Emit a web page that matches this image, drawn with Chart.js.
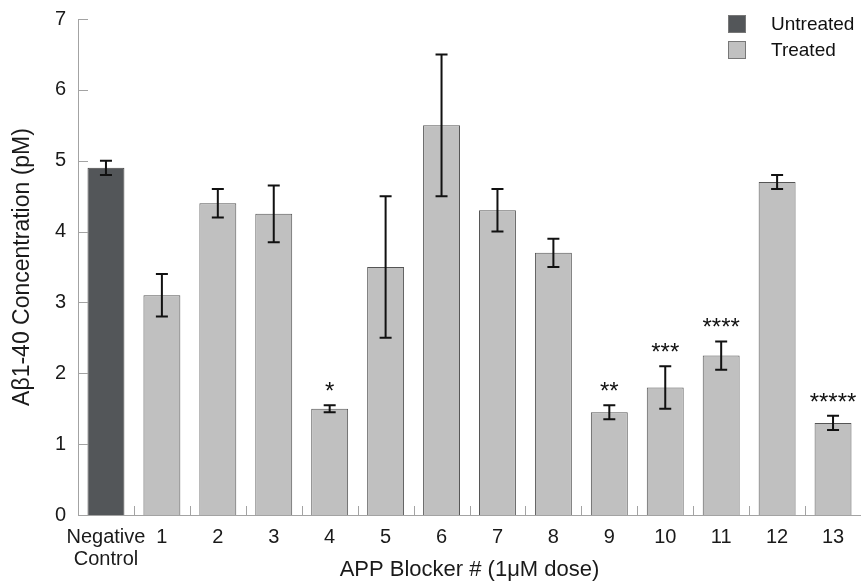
<!DOCTYPE html>
<html>
<head>
<meta charset="utf-8">
<script src="https://cdn.jsdelivr.net/npm/chart.js@4.4.0/dist/chart.umd.min.js"></script>
<style>
  html, body { margin: 0; padding: 0; background: #fff; }
  #chart { display: block; }
</style>
</head>
<body>
<canvas id="chart" width="861" height="586"></canvas>
<script>
// data
const categories = [['Negative', 'Control'], '1', '2', '3', '4', '5', '6', '7', '8', '9', '10', '11', '12', '13'];
const untreated = [4.9, null, null, null, null, null, null, null, null, null, null, null, null, null];
const treated = [null, 3.1, 4.4, 4.25, 1.5, 3.5, 5.5, 4.3, 3.7, 1.45, 1.8, 2.25, 4.7, 1.3];
const errors = [0.1, 0.3, 0.2, 0.4, 0.05, 1.0, 1.0, 0.3, 0.2, 0.1, 0.3, 0.2, 0.1, 0.1];
const stars = ['', '', '', '', '*', '', '', '', '', '**', '***', '****', '', '*****'];
const yTicks = [0, 1, 2, 3, 4, 5, 6, 7];

const FONT = '"Liberation Sans", Arial, sans-serif';
const DARK = '#535659';
const LIGHT = '#c0c0c0';
const AXIS = '#a3a3a3';

Chart.defaults.font.family = FONT;
Chart.defaults.color = '#1a1a1a';

// error bars + significance stars
const errorBars = {
  id: 'errorBars',
  afterDatasetsDraw(chart) {
    const ctx = chart.ctx;
    const x = chart.scales.x, y = chart.scales.y;
    ctx.save();
    ctx.strokeStyle = '#111';
    ctx.lineWidth = 2;
    categories.forEach((c, i) => {
      const v = untreated[i] != null ? untreated[i] : treated[i];
      const px = x.getPixelForValue(i);
      const top = y.getPixelForValue(v + errors[i]);
      const bot = y.getPixelForValue(v - errors[i]);
      ctx.beginPath();
      ctx.moveTo(px, top); ctx.lineTo(px, bot);
      ctx.moveTo(px - 6, top); ctx.lineTo(px + 6, top);
      ctx.moveTo(px - 6, bot); ctx.lineTo(px + 6, bot);
      ctx.stroke();
      if (stars[i]) {
        ctx.fillStyle = '#111';
        ctx.font = '24px ' + FONT;
        ctx.textAlign = 'center';
        ctx.textBaseline = 'alphabetic';
        ctx.fillText(stars[i], px, top - 6);
      }
    });
    ctx.restore();
  }
};

// inward tick marks and the legend box at top right
const decorations = {
  id: 'decorations',
  afterDraw(chart) {
    const ctx = chart.ctx;
    const x = chart.scales.x, y = chart.scales.y;
    const area = chart.chartArea;
    ctx.save();
    ctx.strokeStyle = AXIS;
    ctx.lineWidth = 1;
    ctx.beginPath();
    yTicks.forEach(t => {
      const py = Math.round(y.getPixelForValue(t)) + 0.5;
      ctx.moveTo(area.left, py); ctx.lineTo(area.left + 10, py);
    });
    for (let i = 1; i < categories.length; i++) {
      const px = Math.round((x.getPixelForValue(i - 1) + x.getPixelForValue(i)) / 2) + 0.5;
      ctx.moveTo(px, area.bottom); ctx.lineTo(px, area.bottom - 9);
    }
    ctx.stroke();

    const items = [['Untreated', DARK, 15], ['Treated', LIGHT, 41]];
    ctx.font = '19px ' + FONT;
    ctx.textAlign = 'left';
    ctx.textBaseline = 'middle';
    items.forEach(([label, color, top]) => {
      ctx.fillStyle = color;
      ctx.fillRect(728, top, 18, 18);
      ctx.strokeStyle = '#777';
      ctx.strokeRect(728.5, top + 0.5, 17, 17);
      ctx.fillStyle = '#111';
      ctx.fillText(label, 771, top + 10);
    });
    ctx.restore();
  }
};

new Chart(document.getElementById('chart'), {
  type: 'bar',
  data: {
    labels: categories,
    datasets: [
      {
        label: 'Untreated',
        data: untreated,
        backgroundColor: DARK,
        borderColor: '#444',
        borderWidth: 1,
        grouped: false,
        barPercentage: 0.66,
        categoryPercentage: 1
      },
      {
        label: 'Treated',
        data: treated,
        backgroundColor: LIGHT,
        borderColor: '#555',
        borderWidth: 1,
        grouped: false,
        barPercentage: 0.66,
        categoryPercentage: 1
      }
    ]
  },
  options: {
    responsive: false,
    animation: false,
    layout: { padding: { top: 19, right: 0, bottom: 0, left: 0 } },
    plugins: {
      legend: { display: false },
      tooltip: { enabled: false }
    },
    scales: {
      x: {
        grid: { display: false, drawTicks: false },
        border: { display: true, color: AXIS, width: 1 },
        ticks: { font: { size: 20, lineHeight: 1.1 }, padding: 11, maxRotation: 0, autoSkip: false },
        title: {
          display: true,
          text: 'APP Blocker # (1\u03BCM dose)',
          font: { size: 22 },
          padding: { top: 0, bottom: 3 }
        },
        afterFit(s) { s.height = 71; s.paddingLeft = 0; s.paddingRight = 0; }
      },
      y: {
        min: 0,
        max: 7,
        grid: { display: false, drawTicks: false },
        border: { display: true, color: AXIS, width: 1 },
        ticks: { stepSize: 1, font: { size: 20 }, padding: 12 },
        title: {
          display: true,
          text: 'A\u03B21-40 Concentration (pM)',
          font: { size: 23 },
          padding: { top: 9, bottom: 0 }
        },
        afterFit(s) { s.width = 78; s.paddingTop = 0; s.paddingBottom = 0; }
      }
    }
  },
  plugins: [errorBars, decorations]
});
</script>
</body>
</html>
